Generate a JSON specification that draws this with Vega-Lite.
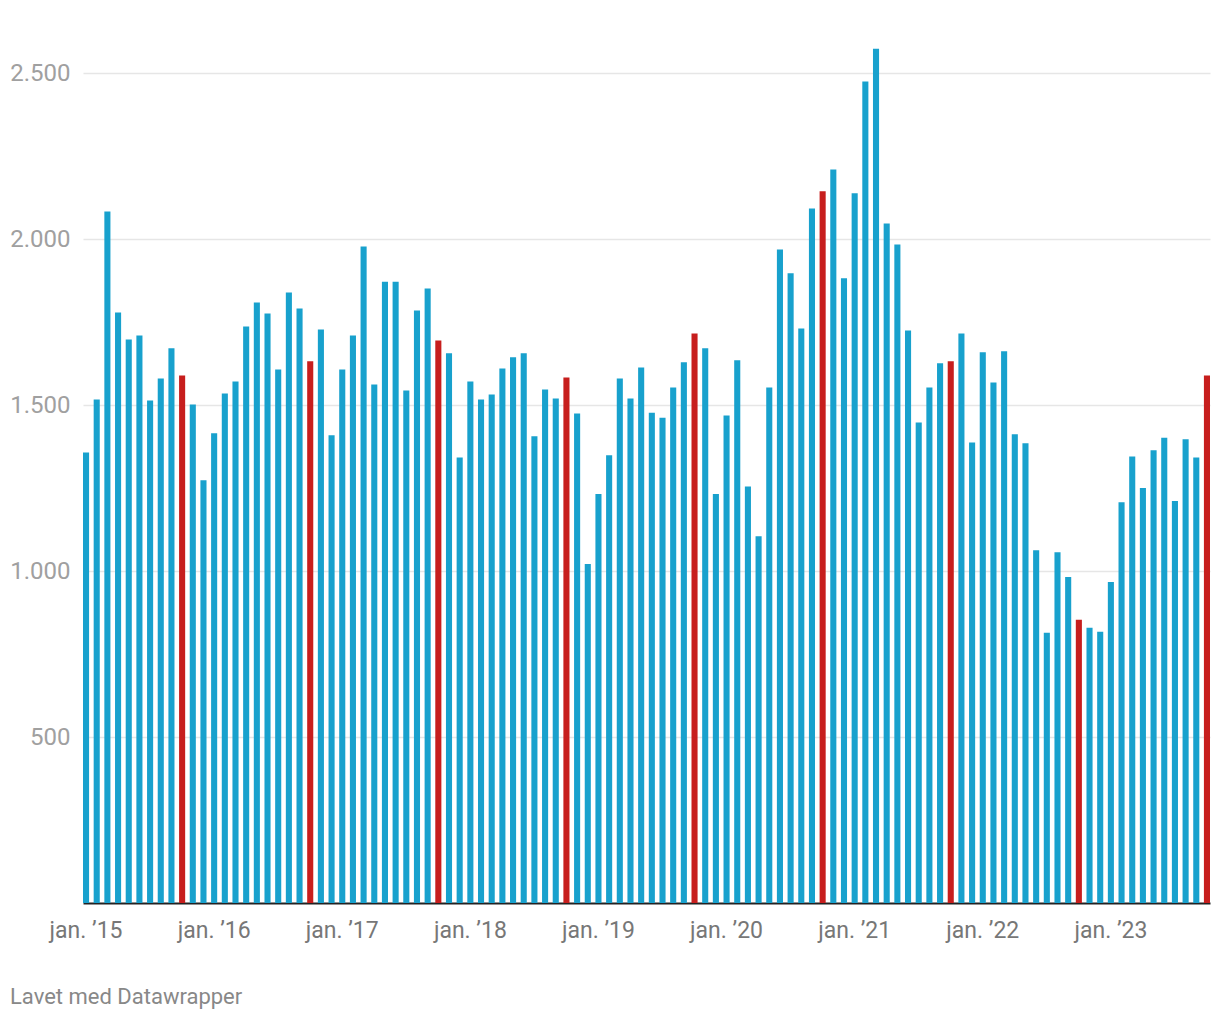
{
  "$schema": "https://vega.github.io/schema/vega-lite/v6.json",
  "autosize": "none",
  "width": 1127,
  "height": 863,
  "padding": {"left": 83, "top": 40, "right": 10, "bottom": 117},
  "background": "white",
  "config": {"font": "Roboto", "view": {"stroke": null}},
  "title": {
    "text": "Lavet med Datawrapper",
    "orient": "bottom",
    "anchor": "start",
    "frame": "group",
    "dx": -73,
    "offset": 45,
    "fontSize": 22,
    "fontWeight": "normal",
    "color": "#888888",
    "font": "Roboto"
  },
  "data": {
    "values": [
      {"date": "2015-01", "value": 1357}, {"date": "2015-02", "value": 1517}, {"date": "2015-03", "value": 2083}, {"date": "2015-04", "value": 1779},
      {"date": "2015-05", "value": 1698}, {"date": "2015-06", "value": 1710}, {"date": "2015-07", "value": 1514}, {"date": "2015-08", "value": 1580},
      {"date": "2015-09", "value": 1671}, {"date": "2015-10", "value": 1589}, {"date": "2015-11", "value": 1502}, {"date": "2015-12", "value": 1274},
      {"date": "2016-01", "value": 1415}, {"date": "2016-02", "value": 1535}, {"date": "2016-03", "value": 1571}, {"date": "2016-04", "value": 1737},
      {"date": "2016-05", "value": 1809}, {"date": "2016-06", "value": 1776}, {"date": "2016-07", "value": 1607}, {"date": "2016-08", "value": 1839},
      {"date": "2016-09", "value": 1791}, {"date": "2016-10", "value": 1632}, {"date": "2016-11", "value": 1728}, {"date": "2016-12", "value": 1409},
      {"date": "2017-01", "value": 1607}, {"date": "2017-02", "value": 1710}, {"date": "2017-03", "value": 1978}, {"date": "2017-04", "value": 1562},
      {"date": "2017-05", "value": 1872}, {"date": "2017-06", "value": 1872}, {"date": "2017-07", "value": 1544}, {"date": "2017-08", "value": 1785},
      {"date": "2017-09", "value": 1851}, {"date": "2017-10", "value": 1695}, {"date": "2017-11", "value": 1656}, {"date": "2017-12", "value": 1342},
      {"date": "2018-01", "value": 1571}, {"date": "2018-02", "value": 1517}, {"date": "2018-03", "value": 1532}, {"date": "2018-04", "value": 1610},
      {"date": "2018-05", "value": 1644}, {"date": "2018-06", "value": 1656}, {"date": "2018-07", "value": 1406}, {"date": "2018-08", "value": 1547},
      {"date": "2018-09", "value": 1520}, {"date": "2018-10", "value": 1583}, {"date": "2018-11", "value": 1475}, {"date": "2018-12", "value": 1021},
      {"date": "2019-01", "value": 1232}, {"date": "2019-02", "value": 1349}, {"date": "2019-03", "value": 1580}, {"date": "2019-04", "value": 1520},
      {"date": "2019-05", "value": 1613}, {"date": "2019-06", "value": 1477}, {"date": "2019-07", "value": 1462}, {"date": "2019-08", "value": 1553},
      {"date": "2019-09", "value": 1629}, {"date": "2019-10", "value": 1716}, {"date": "2019-11", "value": 1671}, {"date": "2019-12", "value": 1232},
      {"date": "2020-01", "value": 1469}, {"date": "2020-02", "value": 1635}, {"date": "2020-03", "value": 1255}, {"date": "2020-04", "value": 1105},
      {"date": "2020-05", "value": 1553}, {"date": "2020-06", "value": 1969}, {"date": "2020-07", "value": 1897}, {"date": "2020-08", "value": 1731},
      {"date": "2020-09", "value": 2092}, {"date": "2020-10", "value": 2144}, {"date": "2020-11", "value": 2210}, {"date": "2020-12", "value": 1882},
      {"date": "2021-01", "value": 2138}, {"date": "2021-02", "value": 2475}, {"date": "2021-03", "value": 2574}, {"date": "2021-04", "value": 2047},
      {"date": "2021-05", "value": 1984}, {"date": "2021-06", "value": 1725}, {"date": "2021-07", "value": 1448}, {"date": "2021-08", "value": 1553},
      {"date": "2021-09", "value": 1626}, {"date": "2021-10", "value": 1632}, {"date": "2021-11", "value": 1716}, {"date": "2021-12", "value": 1387},
      {"date": "2022-01", "value": 1659}, {"date": "2022-02", "value": 1568}, {"date": "2022-03", "value": 1662}, {"date": "2022-04", "value": 1412},
      {"date": "2022-05", "value": 1385}, {"date": "2022-06", "value": 1063}, {"date": "2022-07", "value": 814}, {"date": "2022-08", "value": 1057},
      {"date": "2022-09", "value": 982}, {"date": "2022-10", "value": 853}, {"date": "2022-11", "value": 829}, {"date": "2022-12", "value": 817},
      {"date": "2023-01", "value": 967}, {"date": "2023-02", "value": 1207}, {"date": "2023-03", "value": 1345}, {"date": "2023-04", "value": 1250},
      {"date": "2023-05", "value": 1364}, {"date": "2023-06", "value": 1402}, {"date": "2023-07", "value": 1211}, {"date": "2023-08", "value": 1397},
      {"date": "2023-09", "value": 1342}, {"date": "2023-10", "value": 1589}
    ]
  },
  "mark": {"type": "bar"},
  "encoding": {
    "x": {
      "field": "date",
      "type": "ordinal",
      "sort": null,
      "scale": {"paddingInner": 0.43, "paddingOuter": 0},
      "axis": {
        "title": null,
        "values": ["2015-01", "2016-01", "2017-01", "2018-01", "2019-01", "2020-01", "2021-01", "2022-01", "2023-01"],
        "labelExpr": "'jan. ’' + substring(datum.value, 2, 4)",
        "labelAngle": 0,
        "labelFontSize": 23,
        "labelColor": "#777777",
        "labelFont": "Roboto",
        "labelPadding": 16,
        "ticks": false,
        "domain": true,
        "domainColor": "#222222",
        "domainWidth": 2,
        "grid": false
      }
    },
    "y": {
      "field": "value",
      "type": "quantitative",
      "scale": {"domain": [0, 2600], "nice": false},
      "axis": {
        "title": null,
        "values": [500, 1000, 1500, 2000, 2500],
        "labelExpr": "replace(format(datum.value, ','), ',', '.')",
        "labelFontSize": 24,
        "labelColor": "#a0a0a0",
        "labelFont": "Roboto",
        "labelPadding": 13,
        "ticks": false,
        "domain": false,
        "grid": true,
        "gridColor": "#e6e6e6",
        "gridWidth": 1.7
      }
    },
    "color": {
      "condition": {"test": "substring(datum.date, 5, 7) == '10'", "value": "#c71e1d"},
      "value": "#18a1cd"
    }
  }
}
